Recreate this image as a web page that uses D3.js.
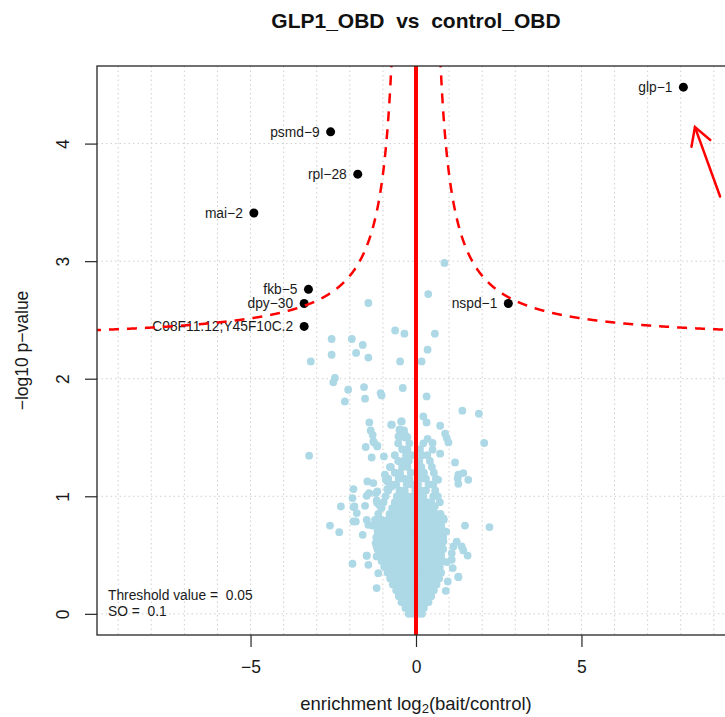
<!DOCTYPE html>
<html><head><meta charset="utf-8">
<script src="https://cdn.jsdelivr.net/npm/d3@7"></script>
<style>
body{margin:0;background:#fff}
text{font-family:"Liberation Sans",Arial,sans-serif}
</style>
</head><body>
<svg id="c" width="725" height="717"></svg>
<script>
// ---------------- data ----------------
const chartTitle = "GLP1_OBD  vs  control_OBD";
const xTickValues = [-5, 0, 5];
const yTickValues = [0, 1, 2, 3, 4];
const gridXValues = [-9,-8,-7,-6,-5,-4,-3,-2,-1,0,1,2,3,4,5,6,7,8,9];
const gridYValues = [0, 1, 2, 3, 4];

// highlighted (significant) proteins
const labelNames = ["glp\u22121","psmd\u22129","rpl\u221228","mai\u22122","fkb\u22125","dpy\u221230","C08F11.12;Y45F10C.2","nspd\u22121"];
const labelX = [8.08, -2.58, -1.76, -4.90, -3.25, -3.38, -3.38, 2.79];
const labelY = [4.48, 4.10, 3.74, 3.41, 2.76, 2.64, 2.445, 2.64];

// scattered (non-significant) proteins outside the dense core
const outlierPoints = [
 [0.86,2.985],[0.37,2.72],[-1.44,2.644],[-0.63,2.41],[-0.35,2.383],[0.57,2.383],[-2.55,2.338],[-1.94,2.338],
 [-1.61,2.287],[-1.81,2.219],[-2.55,2.204],[-1.44,2.18],[0.35,2.247],[-0.48,2.147],[0.17,2.147],[-3.18,2.147],[-2.45,2.006],
 [-2.50,1.969],[-2.05,1.906],[-1.57,1.929],[-1.07,1.878],[-1.04,1.858],[-0.40,1.921],[0.32,1.849],[-2.15,1.807],[-1.54,1.83],
 [1.40,1.728],[1.90,1.702],[0.22,1.679],[0.32,1.628],[-1.41,1.628],[-0.73,1.609],[-0.45,1.637],[0.73,1.60],[-1.37,1.56],
 [-0.50,1.566],[-0.36,1.56],[-1.31,1.523],[-0.26,1.504],[0.88,1.532],[0.93,1.495],[0.35,1.489],[-1.27,1.458],[-1.17,1.424],
 [-1.52,1.419],[0.50,1.453],[0.98,1.458],[2.06,1.453],[0.50,1.396],[-3.23,1.345],[-1.34,1.33],[-0.97,1.339],[0.73,1.362],
 [1.18,1.288],[1.43,1.197],[1.26,1.152],[1.58,1.14],[1.28,1.106],[1.28,1.183],
 [-1.47,1.126],[-1.29,1.112],[-1.89,1.061],[-1.42,1.027],[-1.17,1.041],[-1.92,0.985],[-2.27,0.913],[-1.89,0.908],
 [-1.54,0.919],[-1.19,0.964],[-2.60,0.751],[-2.32,0.695],[-1.89,0.786],[-1.61,0.672],[-1.92,0.426],[-1.49,0.496],
 [-1.44,0.417],[-1.19,0.219],[-1.14,0.346],[1.48,0.751],[2.22,0.738],[0.88,0.70],[0.63,0.587],[1.23,0.615],[1.38,0.573],
 [1.56,0.496],[1.08,0.516],[1.11,0.389],[1.28,0.312],[0.96,0.275],[0.90,0.196],[0.93,0.44],[1.13,0.573],[1.43,0.539],
 [1.08,0.46],[1.28,0.317],[0.83,0.615],[0.91,0.70],[0.83,0.811],[0.57,0.913],[0.67,1.14],
 [-1.29,1.467],[-1.17,1.43],[-0.75,1.609],[-0.43,1.637],[-0.48,1.566],[-0.33,1.523],
 [-1.49,1.004],[-1.21,1.027],[-1.17,0.942],[-1.86,0.913],[-1.79,0.857],[-1.82,0.786],[-1.49,0.80],[-1.44,0.757],
 [-1.17,0.63],[-1.19,0.573],[-1.19,0.488],[-1.49,0.494],[-0.86,1.126],[-0.74,1.083],[-0.63,0.857],[-0.94,1.183],
 [-0.91,1.14],[-0.87,1.061],[-0.79,1.248],[-1.09,0.919],[-0.53,1.51]
];

// dense core of the cloud, read row by row (y value, then the x values on that row)
const coreRowY = [0.00,0.05,0.10,0.15,0.20,0.25,0.30,0.35,0.40,0.45,0.50,0.55,0.60,0.65,0.70,0.75,0.80,0.85,0.90,0.95,1.00,1.05,1.10,1.15,1.20,1.25,1.30,1.35,1.40,1.45,1.50,1.55];
const coreRowX = [
 [-0.22,-0.08,0.06,0.18],
 [-0.32,-0.18,-0.04,0.1,0.24],
 [-0.44,-0.3,-0.16,-0.02,0.12,0.26,0.38],
 [-0.52,-0.37,-0.22,-0.08,0.06,0.2,0.34,0.46],
 [-0.6,-0.45,-0.3,-0.15,0.0,0.14,0.28,0.42,0.54],
 [-0.7,-0.54,-0.38,-0.22,-0.07,0.08,0.22,0.36,0.5,0.62],
 [-0.78,-0.62,-0.46,-0.3,-0.14,0.02,0.16,0.3,0.44,0.58,0.7],
 [-0.86,-0.7,-0.54,-0.38,-0.22,-0.06,0.1,0.24,0.38,0.52,0.66,0.76],
 [-0.96,-0.78,-0.62,-0.46,-0.3,-0.14,0.02,0.18,0.32,0.46,0.6,0.72],
 [-1.04,-0.86,-0.7,-0.54,-0.38,-0.22,-0.06,0.1,0.26,0.4,0.54,0.68,0.8],
 [-1.12,-0.94,-0.78,-0.62,-0.46,-0.3,-0.14,0.02,0.18,0.34,0.48,0.62,0.76],
 [-1.16,-1.0,-0.84,-0.68,-0.52,-0.36,-0.2,-0.04,0.12,0.28,0.42,0.56,0.7,0.82],
 [-1.22,-1.06,-0.9,-0.74,-0.58,-0.42,-0.26,-0.1,0.06,0.22,0.36,0.5,0.64,0.78],
 [-1.2,-1.02,-0.86,-0.7,-0.54,-0.38,-0.22,-0.06,0.1,0.26,0.4,0.54,0.68,0.82],
 [-1.16,-0.98,-0.82,-0.66,-0.5,-0.34,-0.18,-0.02,0.14,0.3,0.44,0.58,0.72,0.86],
 [-1.3,-1.1,-0.92,-0.76,-0.6,-0.44,-0.28,-0.12,0.04,0.2,0.34,0.48,0.62,0.76],
 [-1.24,-1.04,-0.86,-0.7,-0.54,-0.38,-0.22,-0.06,0.1,0.26,0.4,0.54,0.68,0.84],
 [-1.14,-0.8,-0.64,-0.48,-0.32,-0.16,0.0,0.16,0.32,0.46,0.6,0.74],
 [-1.04,-0.72,-0.56,-0.4,-0.24,-0.08,0.08,0.24,0.38,0.52],
 [-0.98,-0.64,-0.48,-0.32,-0.16,0.0,0.16,0.32,0.46,0.72],
 [-0.92,-0.58,-0.42,-0.26,-0.1,0.06,0.22,0.52,0.66],
 [-0.84,-0.5,-0.34,-0.02,0.14,0.3,0.58],
 [-0.76,-0.6,-0.28,-0.12,0.06,0.38,0.52],
 [-0.84,-0.52,-0.36,-0.2,0.14,0.3,0.6],
 [-0.64,-0.48,-0.16,0.08,0.24,0.54],
 [-0.76,-0.42,-0.26,0.16,0.48],
 [-0.54,-0.38,-0.22,0.1,0.42],
 [-0.64,-0.3,-0.14,0.18,0.34],
 [-0.42,-0.26,0.12],
 [-0.54,-0.2,0.22],
 [-0.5,-0.32],
 [-0.44]
];

// threshold curve parameters (hyperbola  y = a + b/(|x| - x0))
const curveA = 2.314, curveB = 0.926, curveX0 = 0.35;
const thresholdText = ["Threshold value =  0.05", "SO =  0.1"];
// arrow annotation (data coordinates: tail, tip)
const arrowTail = [9.19, 3.55];
const arrowTip = [8.43, 4.14];

// ---------------- drawing ----------------
const svg = d3.select("#c");
const x = d3.scaleLinear().domain([-9.64, 9.64]).range([97, 735]);
const y = d3.scaleLinear().domain([-0.18, 4.66]).range([635, 66]);
const [x0px, x1px] = x.range();
const [y1px, y0px] = y.range();

svg.append("rect").attr("width", 725).attr("height", 717).attr("fill", "#fff");

svg.append("defs").append("clipPath").attr("id", "clip")
  .append("rect").attr("x", x0px).attr("y", y0px).attr("width", x1px - x0px).attr("height", y1px - y0px);

const grid = svg.append("g").attr("clip-path", "url(#clip)")
  .attr("stroke", "#cfcfcf").attr("stroke-width", 1).attr("stroke-dasharray", "1.5,3");
grid.selectAll("line.v").data(gridXValues).join("line")
  .attr("x1", d => x(d)).attr("x2", d => x(d)).attr("y1", y0px).attr("y2", y1px);
grid.selectAll("line.h").data(gridYValues).join("line").attr("class","h")
  .attr("y1", d => y(d)).attr("y2", d => y(d)).attr("x1", x0px).attr("x2", x1px);

// background points
const bg = [];
coreRowY.forEach((yy, i) => coreRowX[i].forEach(xx => bg.push([xx, yy])));
outlierPoints.forEach(p => bg.push(p));
svg.append("g").attr("clip-path", "url(#clip)").selectAll("circle").data(bg).join("circle")
  .attr("cx", d => x(d[0])).attr("cy", d => y(d[1])).attr("r", 3.9).attr("fill", "#ADD8E6");

// red zero line
svg.append("line").attr("x1", x(0)).attr("x2", x(0)).attr("y1", y0px).attr("y2", y1px)
  .attr("stroke", "#ff0000").attr("stroke-width", 4);

// highlighted points + labels
const hl = labelNames.map((n, i) => ({n, x: labelX[i], y: labelY[i]}));
svg.append("g").selectAll("circle").data(hl).join("circle")
  .attr("cx", d => x(d.x)).attr("cy", d => y(d.y)).attr("r", 4.5).attr("fill", "#000");
svg.append("g").selectAll("text").data(hl).join("text")
  .attr("x", d => x(d.x) - 11).attr("y", d => y(d.y) + 5)
  .attr("text-anchor", "end").attr("font-size", 13.8).attr("fill", "#1a1a1a").text(d => d.n);

// threshold curves
const xs = d3.range(curveX0 + 0.36, 9.8, 0.005);
const line = d3.line().x(d => x(d[0])).y(d => y(d[1]));
const right = xs.map(v => [v, curveA + curveB / (v - curveX0)]);
const left = xs.map(v => [-v, curveA + curveB / (v - curveX0)]);
const cg = svg.append("g").attr("clip-path", "url(#clip)");
[left, right].forEach(pts => cg.append("path").attr("d", line(pts)).attr("fill", "none")
  .attr("stroke", "#ff0000").attr("stroke-width", 2.5).attr("stroke-dasharray", "10,8"));

// box
svg.append("rect").attr("x", x0px).attr("y", y0px).attr("width", x1px - x0px).attr("height", y1px - y0px)
  .attr("fill", "none").attr("stroke", "#262626").attr("stroke-width", 1.3);

// axes
const xAxis = svg.append("g").attr("transform", `translate(0,${y1px})`)
  .call(d3.axisBottom(x).tickValues(xTickValues).tickSize(12).tickPadding(14));
xAxis.select(".domain").remove();
xAxis.selectAll("line").attr("stroke", "#262626").attr("stroke-width", 1.2);
xAxis.selectAll("text").attr("font-size", 17.5).attr("fill", "#1a1a1a").attr("font-family", '"Liberation Sans",Arial,sans-serif');

const yAxis = svg.append("g").attr("transform", `translate(${x0px},0)`)
  .call(d3.axisLeft(y).tickValues(yTickValues).tickSize(12).tickFormat(d3.format("d")));
yAxis.select(".domain").remove();
yAxis.selectAll("line").attr("stroke", "#262626").attr("stroke-width", 1.2);
yAxis.selectAll("text").attr("transform", "rotate(-90)").attr("x", 0).attr("y", -28).attr("dy", 0)
  .attr("text-anchor", "middle").attr("font-size", 17.5).attr("fill", "#1a1a1a").attr("font-family", '"Liberation Sans",Arial,sans-serif');

// titles
svg.append("text").attr("x", x(0)).attr("y", 28).attr("text-anchor", "middle")
  .attr("font-size", 21).attr("font-weight", "bold").attr("fill", "#111")
  .style("white-space", "pre").text(chartTitle);

const xl = svg.append("text").attr("x", x(0)).attr("y", 710).attr("text-anchor", "middle")
  .attr("font-size", 18.5).attr("fill", "#1a1a1a");
xl.append("tspan").text("enrichment log");
xl.append("tspan").attr("font-size", 13).attr("dy", 3).text("2");
xl.append("tspan").attr("dy", -3).text("(bait/control)");

svg.append("text").attr("transform", `translate(28,${(y0px + y1px) / 2}) rotate(-90)`)
  .attr("text-anchor", "middle").attr("font-size", 17.5).attr("fill", "#1a1a1a")
  .text("\u2212log10 p\u2212value");

// threshold info text
svg.append("g").selectAll("text").data(thresholdText).join("text")
  .attr("x", 108).attr("y", (d, i) => 600 + i * 16).attr("font-size", 13.8).attr("fill", "#1a1a1a")
  .style("white-space", "pre").text(d => d);

// arrow annotation
const tx = x(arrowTip[0]), ty = y(arrowTip[1]), sx = x(arrowTail[0]), sy = y(arrowTail[1]);
const len = Math.hypot(sx - tx, sy - ty), ux = (sx - tx) / len, uy = (sy - ty) / len;
const ah = 20, ang = Math.PI / 6;
const h1 = [tx + ah * (ux * Math.cos(ang) - uy * Math.sin(ang)), ty + ah * (ux * Math.sin(ang) + uy * Math.cos(ang))];
const h2 = [tx + ah * (ux * Math.cos(-ang) - uy * Math.sin(-ang)), ty + ah * (ux * Math.sin(-ang) + uy * Math.cos(-ang))];
const ag = svg.append("g").attr("stroke", "#ff0000").attr("stroke-width", 2.5).attr("fill", "none").attr("stroke-linecap", "round");
ag.append("line").attr("x1", sx).attr("y1", sy).attr("x2", tx).attr("y2", ty);
ag.append("polyline").attr("points", [h1, [tx, ty], h2].map(p => p.join(",")).join(" "));
</script>
</body></html>
